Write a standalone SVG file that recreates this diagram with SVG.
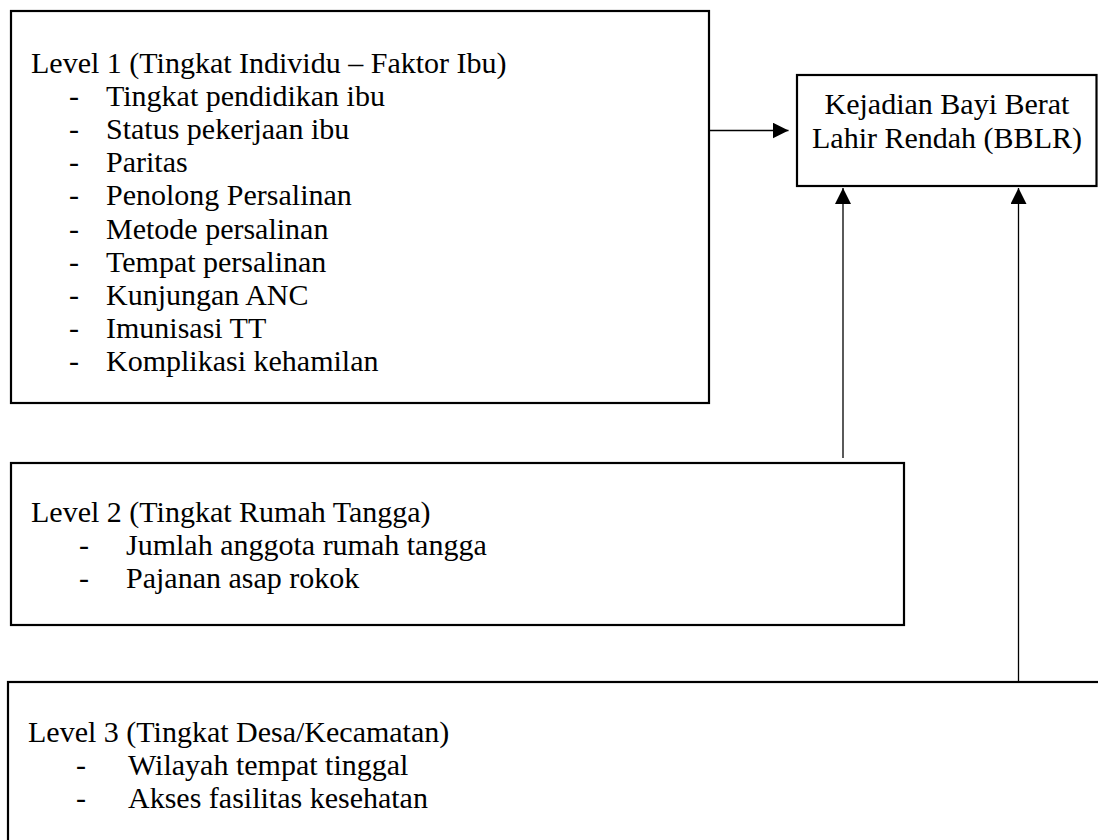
<svg xmlns="http://www.w3.org/2000/svg" width="1098" height="840" viewBox="0 0 1098 840">
<style>
.box{fill:#fff;stroke:#000;stroke-width:2.2}
.t{font-family:"Liberation Serif","Times New Roman",serif;font-size:30px;fill:#000}
.c{stroke:#000;stroke-width:1.3;fill:none}
</style>
<defs>
<marker id="ah" viewBox="0 0 16 16" refX="16" refY="8" markerWidth="16" markerHeight="16" markerUnits="userSpaceOnUse" orient="auto">
<path d="M0,0 L16,8 L0,16 Z" fill="#000"/>
</marker>
</defs>
<rect width="1098" height="840" fill="#fff"/>
<g id="level1">
<rect class="box" x="11" y="11" width="698" height="392"/>
<text class="t" x="31" y="72.6">Level 1 (Tingkat Individu – Faktor Ibu)</text>
<g class="t">
<text x="69" y="105.8">-</text><text x="106" y="105.8">Tingkat pendidikan ibu</text>
<text x="69" y="139">-</text><text x="106" y="139">Status pekerjaan ibu</text>
<text x="69" y="172.2">-</text><text x="106" y="172.2">Paritas</text>
<text x="69" y="205.4">-</text><text x="106" y="205.4">Penolong Persalinan</text>
<text x="69" y="238.6">-</text><text x="106" y="238.6">Metode persalinan</text>
<text x="69" y="271.8">-</text><text x="106" y="271.8">Tempat persalinan</text>
<text x="69" y="305">-</text><text x="106" y="305">Kunjungan ANC</text>
<text x="69" y="338.2">-</text><text x="106" y="338.2">Imunisasi TT</text>
<text x="69" y="371.4">-</text><text x="106" y="371.4">Komplikasi kehamilan</text>
</g>
</g>
<g id="bblr">
<rect class="box" x="797" y="75" width="299.5" height="111"/>
<text class="t" x="947" y="114" text-anchor="middle">Kejadian Bayi Berat</text>
<text class="t" x="947" y="147.5" text-anchor="middle">Lahir Rendah (BBLR)</text>
</g>
<g id="level2">
<rect class="box" x="11" y="463" width="893" height="162"/>
<text class="t" x="31" y="521.8">Level 2 (Tingkat Rumah Tangga)</text>
<g class="t">
<text x="79" y="555">-</text><text x="126" y="555">Jumlah anggota rumah tangga</text>
<text x="79" y="588.2">-</text><text x="126" y="588.2">Pajanan asap rokok</text>
</g>
</g>
<g id="level3">
<rect class="box" x="8" y="682" width="1110" height="180"/>
<text class="t" x="28" y="742">Level 3 (Tingkat Desa/Kecamatan)</text>
<g class="t">
<text x="76" y="775.2">-</text><text x="128" y="775.2">Wilayah tempat tinggal</text>
<text x="76" y="808.4">-</text><text x="128" y="808.4">Akses fasilitas kesehatan</text>
</g>
</g>
<g id="connectors">
<line class="c" x1="709" y1="130.5" x2="788.5" y2="130.5" marker-end="url(#ah)"/>
<line class="c" x1="843" y1="458" x2="843" y2="188" marker-end="url(#ah)"/>
<line class="c" x1="1018.5" y1="682" x2="1018.5" y2="188" marker-end="url(#ah)"/>
</g>
</svg>
